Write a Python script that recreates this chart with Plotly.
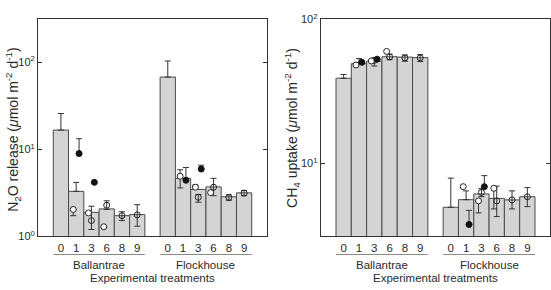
import plotly.graph_objects as go

treatments = ["0", "1", "3", "6", "8", "9"]
sites = ["Ballantrae", "Flockhouse"]

# ---- N2O release (left panel) ----
n2o_bar = {
    "Ballantrae": [16.6, 3.29, 1.89, 2.07, 1.73, 1.78],
    "Flockhouse": [67.4, 4.64, 3.46, 3.70, 2.85, 3.16],
}
n2o_bar_hi = {
    "Ballantrae": [25.7, 4.17, None, None, None, None],
    "Flockhouse": [103.0, None, None, None, None, None],
}
n2o_open = {
    "Ballantrae": [None, 2.04, 1.86, 1.29, None, None],
    "Flockhouse": [None, 4.90, 3.67, 3.18, None, None],
}
n2o_open_lo = {
    "Ballantrae": [None, 1.73, None, None, None, None],
    "Flockhouse": [None, 3.60, None, None, None, None],
}
n2o_open_hi = {
    "Ballantrae": [None, None, None, None, None, None],
    "Flockhouse": [None, 5.82, 3.89, None, None, None],
}
n2o_filled = {
    "Ballantrae": [None, 8.93, 4.17, None, None, None],
    "Flockhouse": [None, 4.41, 5.93, None, None, None],
}
n2o_filled_hi = {
    "Ballantrae": [None, 13.2, None, None, None, None],
    "Flockhouse": [None, 6.17, 6.56, None, None, None],
}
n2o_cross = {
    "Ballantrae": [None, None, 1.52, 2.28, 1.73, 1.77],
    "Flockhouse": [None, None, 2.81, 3.67, 2.80, 3.14],
}
n2o_cross_lo = {
    "Ballantrae": [None, None, 1.20, 2.04, 1.52, 1.31],
    "Flockhouse": [None, None, 2.47, 2.93, 2.60, 2.93],
}
n2o_cross_hi = {
    "Ballantrae": [None, None, 2.22, 2.56, 1.92, 2.31],
    "Flockhouse": [None, None, 3.03, 4.64, 3.00, 3.37],
}

# ---- CH4 uptake (right panel) ----
ch4_bar = {
    "Ballantrae": [39.1, 49.3, 51.4, 55.1, 54.8, 54.3],
    "Flockhouse": [4.98, 5.62, 6.16, 5.74, 5.60, 5.89],
}
ch4_bar_hi = {
    "Ballantrae": [41.5, 53.5, None, None, None, None],
    "Flockhouse": [7.93, 6.47, None, None, None, None],
}
ch4_open = {
    "Ballantrae": [None, 48.3, 51.5, 60.0, None, None],
    "Flockhouse": [None, 6.92, 5.51, 6.74, None, None],
}
ch4_open_lo = {
    "Ballantrae": [None, None, None, None, None, None],
    "Flockhouse": [None, None, 4.55, 4.85, None, None],
}
ch4_open_hi = {
    "Ballantrae": [None, None, None, None, None, None],
    "Flockhouse": [None, None, None, None, None, None],
}
ch4_filled = {
    "Ballantrae": [None, 50.4, 53.0, None, None, None],
    "Flockhouse": [None, 3.78, 6.92, None, None, None],
}
ch4_filled_hi = {
    "Ballantrae": [None, None, None, None, None, None],
    "Flockhouse": [None, 4.74, 8.25, None, None, None],
}
ch4_cross = {
    "Ballantrae": [None, None, 52.0, 55.0, 54.1, 54.1],
    "Flockhouse": [None, None, 6.31, 5.51, 5.60, 5.89],
}
ch4_cross_lo = {
    "Ballantrae": [None, None, 47.5, 52.5, 51.3, 51.0],
    "Flockhouse": [None, None, 5.90, 4.29, 4.85, 5.03],
}
ch4_cross_hi = {
    "Ballantrae": [None, None, 54.0, 57.5, 56.7, 57.0],
    "Flockhouse": [None, None, 6.70, 6.98, 6.47, 6.82],
}

W, H = 551, 290
FONT = "Liberation Sans, Arial, sans-serif"
TXT = "#2a2a2a"
BAR_FILL = "#d4d4d4"
BAR_LINE = "#4a4a4a"
ERR = "#333333"
OFF = 0.19
site_start = {"Ballantrae": 0, "Flockhouse": 7}

fig = go.Figure()


def err_trace(xs, vals, his, los, xa, ya):
    px, py, plus, minus = [], [], [], []
    for x, v, h, l in zip(xs, vals, his, los):
        if v is None or (h is None and l is None):
            continue
        px.append(x)
        py.append(v)
        plus.append((h - v) if h is not None else 0)
        minus.append((v - l) if l is not None else 0)
    if not px:
        return
    fig.add_trace(go.Scatter(
        x=px, y=py, mode="markers", xaxis=xa, yaxis=ya,
        marker=dict(size=1, color="rgba(0,0,0,0)"),
        error_y=dict(type="data", symmetric=False, array=plus, arrayminus=minus,
                     color=ERR, thickness=1, width=3),
        showlegend=False, hoverinfo="skip"))


def marker_trace(xs, vals, xa, ya, symbol, fill, line):
    px = [x for x, v in zip(xs, vals) if v is not None]
    py = [v for v in vals if v is not None]
    if not px:
        return
    fig.add_trace(go.Scatter(
        x=px, y=py, mode="markers", xaxis=xa, yaxis=ya,
        marker=dict(size=6, symbol=symbol, color=fill, line=dict(color=line, width=1)),
        showlegend=False, hoverinfo="skip"))


panels = [
    ("x", "y", n2o_bar, n2o_bar_hi, n2o_open, n2o_open_lo, n2o_open_hi,
     n2o_filled, n2o_filled_hi, n2o_cross, n2o_cross_lo, n2o_cross_hi),
    ("x2", "y2", ch4_bar, ch4_bar_hi, ch4_open, ch4_open_lo, ch4_open_hi,
     ch4_filled, ch4_filled_hi, ch4_cross, ch4_cross_lo, ch4_cross_hi),
]

for (xa, ya, bar, bar_hi, op, op_lo, op_hi, fi, fi_hi, cr, cr_lo, cr_hi) in panels:
    for s in sites:
        xs = [site_start[s] + i for i in range(len(treatments))]
        fig.add_trace(go.Bar(
            x=xs, y=bar[s], width=1, xaxis=xa, yaxis=ya,
            marker=dict(color=BAR_FILL, line=dict(color=BAR_LINE, width=1)),
            showlegend=False, hoverinfo="skip"))
    for s in sites:
        xs = [site_start[s] + i for i in range(len(treatments))]
        err_trace(xs, bar[s], bar_hi[s], [None] * len(xs), xa, ya)
        xo = [x - OFF for x in xs]
        xf = [x + OFF for x in xs]
        err_trace(xo, op[s], op_hi[s], op_lo[s], xa, ya)
        err_trace(xf, fi[s], fi_hi[s], [None] * len(xs), xa, ya)
        err_trace(xs, cr[s], cr_hi[s], cr_lo[s], xa, ya)
        marker_trace(xs, cr[s], xa, ya, "circle-open", "#222222", "#222222")
        marker_trace(xo, op[s], xa, ya, "circle", "white", "#222222")
        marker_trace(xf, fi[s], xa, ya, "circle", "#111111", "#111111")

tickvals = [site_start[s] + i for s in sites for i in range(len(treatments))]
ticktext = treatments * len(sites)

ydom = [1 - 240 / H, 1 - 12 / H]
xdom1 = [38 / W, 267 / W]
xdom2 = [320.7 / W, 550.3 / W]

xcommon = dict(range=[-1.5, 13.5], tickvals=tickvals, ticktext=ticktext, ticks="",
               ticklabelstandoff=1,
               showline=True, linecolor="#333333", linewidth=1, mirror=True,
               showgrid=False, zeroline=False, fixedrange=True,
               tickfont=dict(family=FONT, size=11.5, color=TXT))
ycommon = dict(type="log", tickvals=[1, 10, 100],
               ticktext=["10<sup>0</sup>", "10<sup>1</sup>", "10<sup>2</sup>"],
               ticks="inside", ticklen=4, tickcolor="#333333",
               showline=True, linecolor="#333333", linewidth=1, mirror="ticks",
               showgrid=False, zeroline=False,
               tickfont=dict(family=FONT, size=11, color=TXT))

fig.update_layout(
    width=W, height=H, margin=dict(l=0, r=0, t=0, b=0),
    paper_bgcolor="white", plot_bgcolor="white", barmode="overlay",
    xaxis=dict(domain=xdom1, anchor="y", **xcommon),
    yaxis=dict(domain=ydom, anchor="x", range=[0, 2.49], **ycommon),
    xaxis2=dict(domain=xdom2, anchor="y2", **xcommon),
    yaxis2=dict(domain=ydom, anchor="x2", range=[0.495, 2.0], **ycommon),
)

line_y = 1 - 259 / H
lab_y = 1 - 270 / H
exp_y = 1 - 283.5 / H
shapes = []
annotations = []
for xa in ["x", "x2"]:
    for s in sites:
        x0 = site_start[s] - 0.5
        x1 = site_start[s] + len(treatments) - 0.5
        shapes.append(dict(type="line", xref=xa, yref="paper", x0=x0, x1=x1,
                           y0=line_y, y1=line_y, line=dict(color="#8a8a8a", width=1)))
        annotations.append(dict(text=s, xref=xa, yref="paper", x=(x0 + x1) / 2, y=lab_y,
                                showarrow=False, xanchor="center", yanchor="middle",
                                font=dict(family=FONT, size=11.5, color=TXT)))
    annotations.append(dict(text="Experimental treatments", xref=xa, yref="paper", x=6, y=exp_y,
                            showarrow=False, xanchor="center", yanchor="middle",
                            font=dict(family=FONT, size=11.5, color=TXT)))

annotations.append(dict(
    text="N<sub>2</sub>O release (<i>\u03bc</i>mol m<sup>-2</sup> d<sup>-1</sup>)",
    xref="paper", yref="paper", x=13 / W, y=1 - 128 / H, textangle=-90,
    showarrow=False, xanchor="center", yanchor="middle",
    font=dict(family=FONT, size=14, color=TXT)))
annotations.append(dict(
    text="CH<sub>4</sub> uptake (<i>\u03bc</i>mol m<sup>-2</sup> d<sup>-1</sup>)",
    xref="paper", yref="paper", x=292 / W, y=1 - 126 / H, textangle=-90,
    showarrow=False, xanchor="center", yanchor="middle",
    font=dict(family=FONT, size=14, color=TXT)))

fig.update_layout(shapes=shapes, annotations=annotations)
fig.write_html("out.html")
